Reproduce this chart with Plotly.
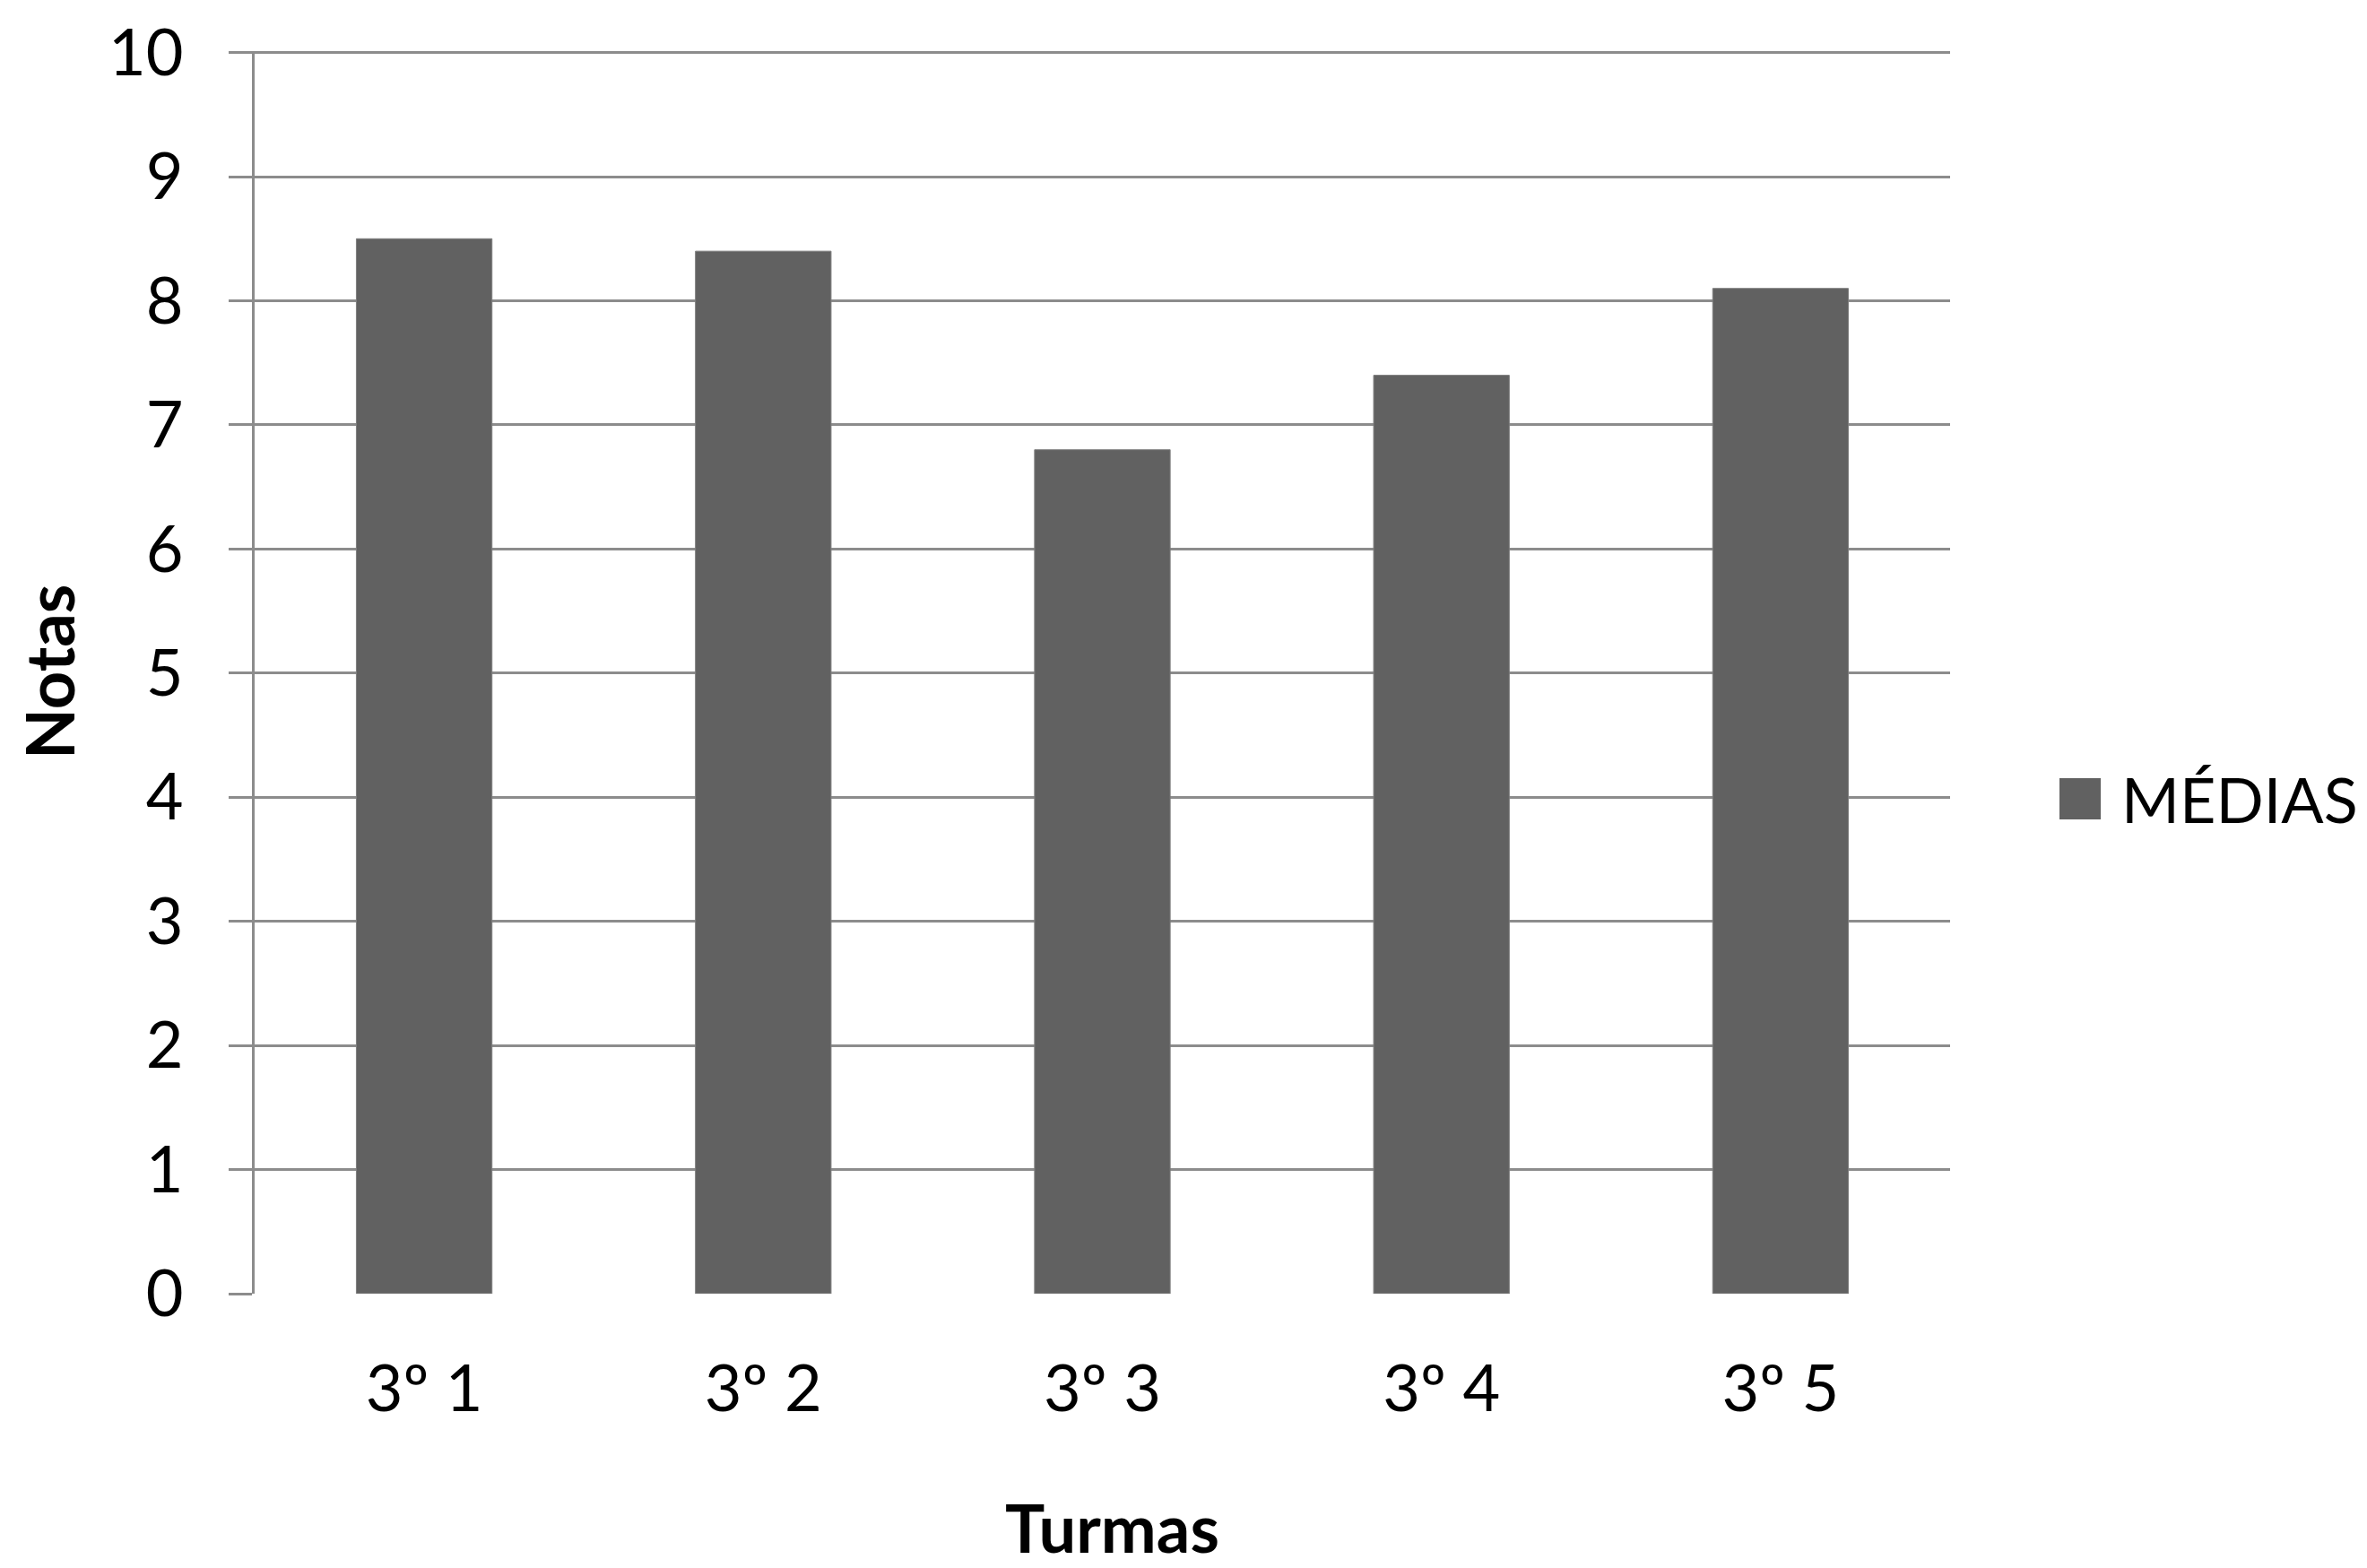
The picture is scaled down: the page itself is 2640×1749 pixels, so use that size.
import plotly.graph_objects as go

categories = ["3º 1", "3º 2", "3º 3", "3º 4", "3º 5"]
medias = [8.5, 8.4, 6.8, 7.4, 8.1]
y_ticks = [0, 1, 2, 3, 4, 5, 6, 7, 8, 9, 10]
series_name = "MÉDIAS"
x_title = "Turmas"
y_title = "Notas"

FONT = "Lato, 'Open Sans', sans-serif"
BAR = "#616161"
GRID = "#8c8c8c"

PL, PR, PT, PB = 284, 2175, 57, 1443
PW, PH = PR - PL, PB - PT

fig = go.Figure()
fig.add_trace(go.Bar(
    x=categories, y=medias, name=series_name,
    marker=dict(color=BAR, line=dict(color="#7f7f7f", width=1)),
    showlegend=False,
))

fig.update_layout(
    width=2640, height=1749,
    margin=dict(l=PL, r=2640 - PR, t=PT, b=1749 - PB),
    paper_bgcolor="white", plot_bgcolor="white",
    bargap=0.6,
    font=dict(family=FONT, color="black", size=72),
    xaxis=dict(
        showgrid=False, showline=False, ticks="",
        tickfont=dict(size=72), ticklabelstandoff=58,
    ),
    yaxis=dict(
        range=[0, 10.012], tickvals=y_ticks,
        showgrid=True, gridcolor=GRID, gridwidth=3,
        showline=True, linecolor=GRID, linewidth=3,
        ticks="outside", ticklen=26, tickcolor=GRID, tickwidth=3,
        tickfont=dict(size=72), ticklabelstandoff=36,
        zeroline=False,
    ),
)

# legend marker + label (drawn manually to match the large square swatch)
fig.add_shape(type="rect", xref="paper", yref="paper",
              x0=(2297 - PL) / PW, x1=(2343 - PL) / PW,
              y0=(PB - 914) / PH, y1=(PB - 868) / PH,
              fillcolor=BAR, line=dict(width=0))
fig.add_annotation(text=series_name, xref="paper", yref="paper",
                   x=(2364 - PL) / PW, y=(PB - 891) / PH,
                   xanchor="left", yanchor="middle", showarrow=False,
                   font=dict(size=70, family=FONT, color="black"))

# axis titles
fig.add_annotation(text="<b>" + x_title + "</b>", xref="paper", yref="paper",
                   x=(1240 - PL) / PW, y=(PB - 1749) / PH, xanchor="center", yanchor="bottom",
                   borderpad=0, showarrow=False,
                   font=dict(size=74, family=FONT, color="black"))
fig.add_annotation(text="<b>" + y_title + "</b>", xref="paper", yref="paper",
                   x=(54 - PL) / PW, y=(PB - 750) / PH, xanchor="center", yanchor="middle",
                   textangle=-90, showarrow=False,
                   font=dict(size=74, family=FONT, color="black"))

fig.write_html("out.html",
               config={"displayModeBar": False},
               post_script="document.body.style.margin='0';document.body.style.overflow='hidden';")
